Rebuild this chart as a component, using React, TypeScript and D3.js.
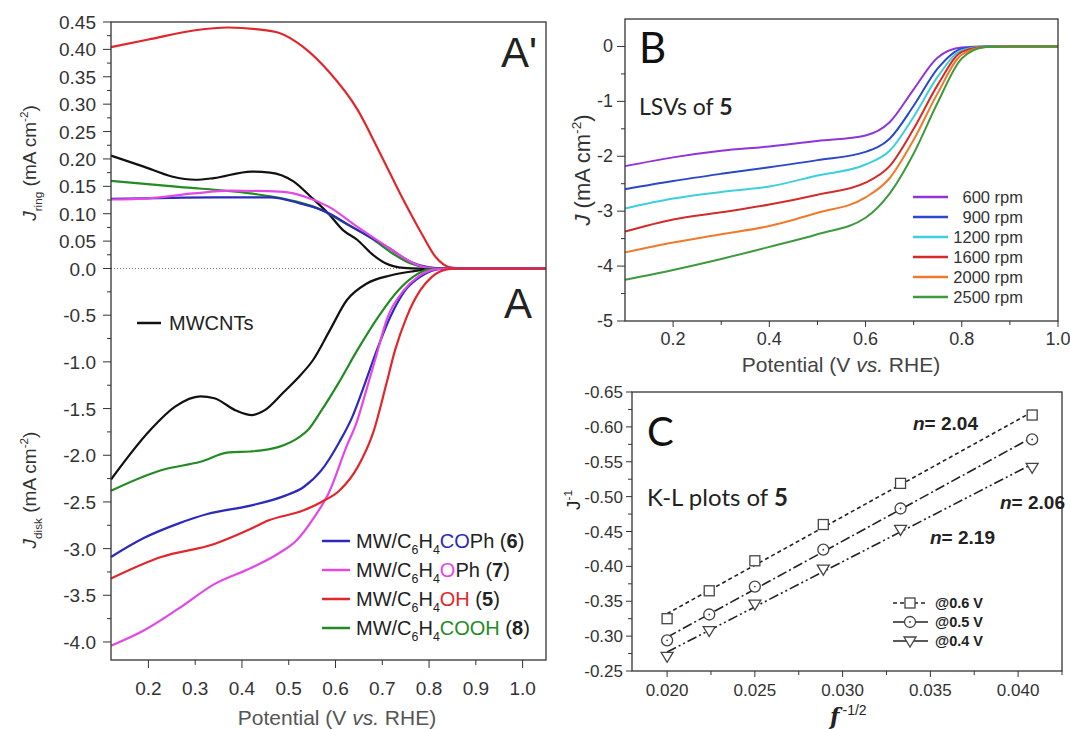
import React from 'react';
import * as d3 from 'd3';

const W = 1070;
const H = 729;
const FONT = "'Liberation Sans', Arial, sans-serif";
const CAL = "Lato, 'Open Sans', sans-serif";

// ---- panel A / A' (ring and disk currents, V vs. RHE) ----
const ringRed = [[0.12,0.404],[0.2,0.418],[0.3,0.435],[0.37,0.44],[0.43,0.437],[0.48,0.43],[0.53,0.405],[0.585,0.36],[0.647,0.29],[0.692,0.216],[0.738,0.137],[0.784,0.064],[0.815,0.02],[0.845,0.002],[0.87,0],[1.05,0]];
const ringBlack = [[0.12,0.206],[0.19,0.186],[0.25,0.168],[0.3,0.162],[0.34,0.165],[0.42,0.177],[0.46,0.175],[0.51,0.159],[0.547,0.131],[0.585,0.1],[0.616,0.07],[0.647,0.052],[0.677,0.027],[0.708,0.009],[0.746,0.001],[0.78,0],[1.05,0]];
const ringGreen = [[0.12,0.16],[0.265,0.149],[0.418,0.137],[0.517,0.122],[0.57,0.107],[0.616,0.085],[0.677,0.055],[0.723,0.027],[0.761,0.009],[0.8,0.001],[0.83,0],[1.05,0]];
const ringBlue = [[0.12,0.127],[0.34,0.13],[0.46,0.13],[0.524,0.119],[0.57,0.107],[0.647,0.07],[0.715,0.037],[0.761,0.012],[0.8,0.002],[0.83,0],[1.05,0]];
const ringMagenta = [[0.12,0.126],[0.2,0.128],[0.297,0.137],[0.374,0.142],[0.489,0.14],[0.535,0.131],[0.585,0.113],[0.647,0.076],[0.715,0.037],[0.761,0.012],[0.8,0.001],[0.83,0],[1.05,0]];

const diskBlack = [[0.12,-2.26],[0.204,-1.73],[0.257,-1.48],[0.311,-1.37],[0.341,-1.39],[0.387,-1.52],[0.421,-1.57],[0.448,-1.52],[0.49,-1.32],[0.52,-1.17],[0.552,-0.98],[0.588,-0.66],[0.624,-0.34],[0.667,-0.16],[0.717,-0.075],[0.766,-0.03],[0.82,0],[1.05,0]];
const diskGreen = [[0.12,-2.38],[0.227,-2.16],[0.311,-2.07],[0.372,-1.97],[0.418,-1.96],[0.479,-1.91],[0.524,-1.8],[0.541,-1.73],[0.57,-1.52],[0.606,-1.23],[0.646,-0.88],[0.691,-0.52],[0.734,-0.235],[0.766,-0.09],[0.8,-0.01],[0.83,0],[1.05,0]];
const diskBlue = [[0.12,-3.09],[0.189,-2.89],[0.265,-2.73],[0.326,-2.63],[0.418,-2.54],[0.494,-2.43],[0.532,-2.34],[0.57,-2.16],[0.608,-1.86],[0.635,-1.6],[0.663,-1.23],[0.688,-0.88],[0.717,-0.52],[0.749,-0.235],[0.781,-0.09],[0.817,-0.01],[0.84,0],[1.05,0]];
const diskMagenta = [[0.12,-4.04],[0.189,-3.88],[0.265,-3.64],[0.341,-3.38],[0.418,-3.21],[0.479,-3.05],[0.517,-2.91],[0.555,-2.66],[0.585,-2.41],[0.624,-1.9],[0.645,-1.65],[0.666,-1.3],[0.688,-0.92],[0.71,-0.54],[0.745,-0.24],[0.776,-0.09],[0.812,-0.01],[0.84,0],[1.05,0]];
const diskRed = [[0.12,-3.32],[0.227,-3.09],[0.341,-2.95],[0.418,-2.79],[0.456,-2.7],[0.532,-2.59],[0.57,-2.5],[0.608,-2.38],[0.647,-2.13],[0.681,-1.75],[0.709,-1.23],[0.727,-0.88],[0.752,-0.52],[0.781,-0.235],[0.806,-0.09],[0.838,-0.01],[0.86,0],[1.05,0]];

const samples = ['6', '7', '5', '8'];
const groups = ['CO', 'O', 'OH', 'COOH'];
const tails = ['Ph', 'Ph', '', ''];
const colA = { black: '#111111', blue: '#2a2abb', magenta: '#e447e6', red: '#e2262b', green: '#238b23' };

const ringTicks = [0, 0.05, 0.1, 0.15, 0.2, 0.25, 0.3, 0.35, 0.4, 0.45];
const diskTicks = [-0.5, -1, -1.5, -2, -2.5, -3, -3.5, -4];
const potTicksA = [0.2, 0.3, 0.4, 0.5, 0.6, 0.7, 0.8, 0.9, 1.0];

// ---- panel B (LSVs at different rotation rates) ----
const potB = [0.1, 0.2, 0.3, 0.4, 0.5, 0.6, 0.65, 0.7, 0.75, 0.8, 0.85, 0.9, 1.0];
const rpm = ['600', '900', '1200', '1600', '2000', '2500'];
const lsv600 = [-2.18, -2.02, -1.9, -1.82, -1.72, -1.62, -1.38, -0.78, -0.2, -0.02, 0, 0, 0];
const lsv900 = [-2.6, -2.45, -2.32, -2.2, -2.07, -1.92, -1.68, -1.08, -0.4, -0.04, 0, 0, 0];
const lsv1200 = [-2.95, -2.77, -2.65, -2.55, -2.35, -2.15, -1.9, -1.28, -0.55, -0.07, 0, 0, 0];
const lsv1600 = [-3.37, -3.15, -3.02, -2.88, -2.7, -2.48, -2.18, -1.5, -0.7, -0.1, -0.005, 0, 0];
const lsv2000 = [-3.75, -3.57, -3.42, -3.27, -3.03, -2.75, -2.4, -1.7, -0.85, -0.15, -0.01, 0, 0];
const lsv2500 = [-4.25, -4.07, -3.87, -3.65, -3.42, -3.12, -2.68, -1.95, -1.02, -0.22, -0.01, 0, 0];
const colB = ['#8e35d9', '#2b48c8', '#3dd0dc', '#d42a2a', '#f07a2a', '#3d9a3d'];

// ---- panel C (K-L plots) ----
const klX = [0.02, 0.0224, 0.025, 0.0289, 0.0333, 0.0408];
const kl06 = [-0.325, -0.365, -0.408, -0.46, -0.519, -0.617];
const kl05 = [-0.294, -0.331, -0.371, -0.424, -0.483, -0.582];
const kl04 = [-0.271, -0.308, -0.346, -0.396, -0.453, -0.542];
const klLabels = ['@0.6 V', '@0.5 V', '@0.4 V'];
const nValues = ['2.04', '2.06', '2.19'];
const klYTicks = [-0.65, -0.6, -0.55, -0.5, -0.45, -0.4, -0.35, -0.3, -0.25];
const klXTicks = [0.02, 0.025, 0.03, 0.035, 0.04];

const fmt = (spec: string) => (v: number) => d3.format(spec)(v).replace('\u2212', '-');

type Seg = { t: string; s?: 'sub' | 'sup'; c?: string; b?: boolean; i?: boolean; fs?: number };

function Rich({ x, y, segs, size, anchor = 'start', fill = '#222', rotate = 0, family = FONT, weight }: any) {
  let shift = 0;
  const parts = (segs as Seg[]).map((sg, k) => {
    const target = sg.s === 'sub' ? size * 0.32 : sg.s === 'sup' ? -size * 0.42 : 0;
    const dy = target - shift;
    shift = target;
    return (
      <tspan key={k} dy={dy} fill={sg.c} fontWeight={sg.b ? 'bold' : undefined}
        fontStyle={sg.i ? 'italic' : undefined} fontSize={sg.fs ?? (sg.s ? size * 0.62 : undefined)}>{sg.t}</tspan>
    );
  });
  return (
    <text x={x} y={y} fontSize={size} fontFamily={family} fill={fill} textAnchor={anchor} fontWeight={weight}
      transform={rotate ? `rotate(${rotate},${x},${y})` : undefined}>{parts}</text>
  );
}

export default function App() {
  // panel A scales
  const xA = d3.scaleLinear().domain([0.12, 1.05]).range([111, 546]);
  const yRing = d3.scaleLinear().domain([0, 0.45]).range([268.5, 22]);
  const yDisk = d3.scaleLinear().domain([-4.193, 0]).range([660, 268.5]);
  const ringLine = d3.line<number[]>().x(d => xA(d[0])).y(d => yRing(d[1])).curve(d3.curveMonotoneX);
  const diskLine = d3.line<number[]>().x(d => xA(d[0])).y(d => yDisk(d[1])).curve(d3.curveMonotoneX);

  const ringSeries = [
    { d: ringBlack, c: colA.black }, { d: ringGreen, c: colA.green }, { d: ringBlue, c: colA.blue },
    { d: ringMagenta, c: colA.magenta }, { d: ringRed, c: colA.red },
  ];
  const diskSeries = [
    { d: diskBlack, c: colA.black }, { d: diskGreen, c: colA.green }, { d: diskBlue, c: colA.blue },
    { d: diskMagenta, c: colA.magenta }, { d: diskRed, c: colA.red },
  ];
  const legendCols = [colA.blue, colA.magenta, colA.red, colA.green];

  // panel B scales
  const xB = d3.scaleLinear().domain([0.1, 1.0]).range([625, 1058]);
  const yB = d3.scaleLinear().domain([-5, 0.5]).range([321, 19]);
  const lsvs = [lsv600, lsv900, lsv1200, lsv1600, lsv2000, lsv2500];
  const lineB = d3.line<number>().x((_, i) => xB(potB[i])).y(d => yB(d)).curve(d3.curveMonotoneX);

  // panel C scales
  const xC = d3.scaleLinear().domain([0.018, 0.0425]).range([632, 1062]);
  const yC = d3.scaleLinear().domain([-0.25, -0.65]).range([671, 392]);
  const klSets = [kl06, kl05, kl04];
  const dashes = ['4,3', '10,3,2,3', '10,3,2,3,2,3'];
  const fits = klSets.map(ys => {
    const mx = d3.mean(klX) as number;
    const my = d3.mean(ys) as number;
    const sxy = d3.sum(klX, (x, i) => (x - mx) * (ys[i] - my));
    const sxx = d3.sum(klX, x => (x - mx) * (x - mx));
    const k = sxy / sxx;
    return (x: number) => my + k * (x - mx);
  });

  const marker = (kind: number, cx: number, cy: number, key: any) => {
    const st = { fill: 'white', stroke: '#444', strokeWidth: 1.3 };
    if (kind === 0) return <rect key={key} x={cx - 5} y={cy - 5} width={10} height={10} {...st} />;
    if (kind === 1) return <circle key={key} cx={cx} cy={cy} r={5.5} {...st} />;
    return <path key={key} d={`M${cx - 6},${cy - 4}L${cx + 6},${cy - 4}L${cx},${cy + 6}Z`} {...st} />;
  };

  const minorRing = d3.range(0.025, 0.45, 0.05);
  const minorDisk = d3.range(-0.25, -4.19, -0.5);
  const minorB = d3.range(-4.5, 0.5, 1);

  return (
    <svg width={W} height={H} style={{ position: 'absolute', left: 0, top: 0, background: 'white' }}
      fontFamily={FONT}>
      {/* ================= Panel A ================= */}
      <line x1={111} x2={546} y1={yRing(0)} y2={yRing(0)} stroke="#777" strokeWidth={1} strokeDasharray="1,2" />
      {ringSeries.map((s, i) => (
        <path key={'r' + i} d={ringLine(s.d) as string} fill="none" stroke={s.c} strokeWidth={2.2} />
      ))}
      {diskSeries.map((s, i) => (
        <path key={'d' + i} d={diskLine(s.d) as string} fill="none" stroke={s.c} strokeWidth={2.2} />
      ))}
      <rect x={111} y={22} width={435} height={638} fill="none" stroke="#333" strokeWidth={1.3} />
      {ringTicks.map(v => (
        <g key={'rt' + v}>
          <line x1={103} x2={111} y1={yRing(v)} y2={yRing(v)} stroke="#333" />
          <text x={96} y={yRing(v) + 7} fontSize={19} textAnchor="end" fill="#333">{v === 0 ? '0.0' : fmt('.2f')(v)}</text>
        </g>
      ))}
      {minorRing.map(v => (
        <line key={'rm' + v} x1={107} x2={111} y1={yRing(v)} y2={yRing(v)} stroke="#333" />
      ))}
      {diskTicks.map(v => (
        <g key={'dt' + v}>
          <line x1={103} x2={111} y1={yDisk(v)} y2={yDisk(v)} stroke="#333" />
          <text x={96} y={yDisk(v) + 7} fontSize={19} textAnchor="end" fill="#333">{fmt('.1f')(v)}</text>
        </g>
      ))}
      {minorDisk.map(v => (
        <line key={'dm' + v} x1={107} x2={111} y1={yDisk(v)} y2={yDisk(v)} stroke="#333" />
      ))}
      {potTicksA.map((v, i) => (
        <g key={'xa' + v}>
          <line x1={xA(v)} x2={xA(v)} y1={660} y2={i % 2 === 0 ? 668 : 665} stroke="#333" />
          <text x={xA(v)} y={695} fontSize={19} textAnchor="middle" fill="#333">{fmt('.1f')(v)}</text>
        </g>
      ))}
      <text x={337} y={725} fontSize={21} textAnchor="middle" fill="#555">Potential (V <tspan fontStyle="italic">vs.</tspan> RHE)</text>
      <Rich x={36} y={163} size={19} anchor="middle" rotate={-90} fill="#333"
        segs={[{ t: 'J', i: true }, { t: 'ring', s: 'sub' }, { t: ' (mA cm' }, { t: '-2', s: 'sup' }, { t: ')' }]} />
      <Rich x={36} y={490} size={19} anchor="middle" rotate={-90} fill="#333"
        segs={[{ t: 'J', i: true }, { t: 'disk', s: 'sub' }, { t: ' (mA cm' }, { t: '-2', s: 'sup' }, { t: ')' }]} />
      <text x={537} y={67} fontSize={42} textAnchor="end" fill="#222">A'</text>
      <text x={532} y={318} fontSize={42} textAnchor="end" fill="#222">A</text>
      <line x1={137} x2={161} y1={323} y2={323} stroke={colA.black} strokeWidth={2.5} />
      <text x={169} y={330} fontSize={20} fill="#222">MWCNTs</text>
      {samples.map((s, i) => {
        const y = 541 + i * 29;
        return (
          <g key={'la' + i}>
            <line x1={322} x2={350} y1={y} y2={y} stroke={legendCols[i]} strokeWidth={2.5} />
            <Rich x={356} y={y + 7} size={20} fill="#222" segs={[
              { t: 'MW/C' }, { t: '6', s: 'sub' }, { t: 'H' }, { t: '4', s: 'sub' },
              { t: groups[i], c: legendCols[i] }, { t: tails[i] + ' (' }, { t: s, b: true }, { t: ')' },
            ]} />
          </g>
        );
      })}

      {/* ================= Panel B ================= */}
      {lsvs.map((ys, i) => (
        <path key={'b' + i} d={lineB(ys) as string} fill="none" stroke={colB[i]} strokeWidth={2} />
      ))}
      <rect x={625} y={19} width={433} height={302} fill="none" stroke="#333" strokeWidth={1.3} />
      {[0, -1, -2, -3, -4, -5].map(v => (
        <g key={'by' + v}>
          <line x1={617} x2={625} y1={yB(v)} y2={yB(v)} stroke="#333" />
          <text x={613} y={yB(v) + 6} fontSize={18} textAnchor="end" fill="#333">{String(v)}</text>
        </g>
      ))}
      {minorB.map(v => (
        <line key={'bym' + v} x1={621} x2={625} y1={yB(v)} y2={yB(v)} stroke="#333" />
      ))}
      {[0.2, 0.4, 0.6, 0.8, 1.0].map(v => (
        <g key={'bx' + v}>
          <line x1={xB(v)} x2={xB(v)} y1={321} y2={327} stroke="#333" />
          <text x={xB(v)} y={345} fontSize={18} textAnchor="middle" fill="#333">{fmt('.1f')(v)}</text>
        </g>
      ))}
      {[0.3, 0.5, 0.7, 0.9].map(v => (
        <line key={'bxm' + v} x1={xB(v)} x2={xB(v)} y1={321} y2={325} stroke="#333" />
      ))}
      <text x={841} y={372} fontSize={21} textAnchor="middle" fill="#444">Potential (V <tspan fontStyle="italic">vs.</tspan> RHE)</text>
      <Rich x={590} y={170} size={22} anchor="middle" rotate={-90} fill="#333"
        segs={[{ t: 'J', i: true }, { t: ' (mA cm' }, { t: '-2', s: 'sup' }, { t: ')' }]} />
      <text x={639} y={63} fontSize={42} fontFamily={CAL} fill="#111">B</text>
      <text x={639} y={115} fontSize={23} fontFamily={CAL} fill="#222">LSVs of <tspan fontWeight="bold">5</tspan></text>
      {rpm.map((r, i) => {
        const y = 197 + i * 20;
        return (
          <g key={'lb' + i}>
            <line x1={913} x2={948} y1={y} y2={y} stroke={colB[i]} strokeWidth={2.5} />
            <text x={1023} y={y + 6} fontSize={16.5} textAnchor="end" fill="#333">{r} rpm</text>
          </g>
        );
      })}

      {/* ================= Panel C ================= */}
      {fits.map((f, i) => (
        <line key={'f' + i} x1={xC(klX[0])} y1={yC(f(klX[0]))} x2={xC(klX[5])} y2={yC(f(klX[5]))}
          stroke="#222" strokeWidth={1.6} strokeDasharray={dashes[i]} />
      ))}
      {klSets.map((ys, k) => ys.map((v, i) => marker(k, xC(klX[i]), yC(v), `m${k}-${i}`)))}
      {kl05.map((v, i) => <circle key={'dot' + i} cx={xC(klX[i])} cy={yC(v)} r={0.9} fill="#444" />)}
      <rect x={632} y={392} width={430} height={279} fill="none" stroke="#333" strokeWidth={1.3} />
      {klYTicks.map(v => (
        <g key={'cy' + v}>
          <line x1={626} x2={632} y1={yC(v)} y2={yC(v)} stroke="#333" />
          <text x={623} y={yC(v) + 6} fontSize={17} textAnchor="end" fill="#333">{fmt('.2f')(v)}</text>
        </g>
      ))}
      {d3.range(-0.625, -0.25, 0.05).map(v => (
        <line key={'cym' + v} x1={628} x2={632} y1={yC(v)} y2={yC(v)} stroke="#333" />
      ))}
      {klXTicks.map(v => (
        <g key={'cx' + v}>
          <line x1={xC(v)} x2={xC(v)} y1={671} y2={677} stroke="#333" />
          <text x={xC(v)} y={696} fontSize={17} textAnchor="middle" fill="#333">{fmt('.3f')(v)}</text>
        </g>
      ))}
      {[0.0225, 0.0275, 0.0325, 0.0375, 0.0425].map(v => (
        <line key={'cxm' + v} x1={xC(v)} x2={xC(v)} y1={671} y2={675} stroke="#333" />
      ))}
      <text x={830} y={724} fontFamily="'DejaVu Serif', serif" fontSize={22} fontStyle="italic" fontWeight="bold" fill="#222">
        f<tspan dx={3} dy={-9} fontFamily={FONT} fontSize={14} fontStyle="normal" fontWeight="normal">-1/2</tspan>
      </text>
      <Rich x={580} y={500} size={19} anchor="middle" rotate={-90} fill="#222"
        segs={[{ t: 'J' }, { t: '-1', s: 'sup' }]} />
      <text x={647} y={446} fontSize={40} fontFamily={CAL} fill="#111">C</text>
      <text x={647} y={506} fontSize={24} fontFamily={CAL} fill="#222">K-L plots of <tspan fontWeight="bold">5</tspan></text>
      {[[913, 430], [1000, 509], [930, 544]].map((p, i) => (
        <text key={'n' + i} x={p[0]} y={p[1]} fontSize={19} fontWeight="bold" fill="#222">
          <tspan fontStyle="italic">n</tspan>= {nValues[i]}
        </text>
      ))}
      {klLabels.map((l, i) => {
        const y = 603 + i * 19;
        return (
          <g key={'lc' + i}>
            <line x1={893} x2={928} y1={y} y2={y} stroke="#222" strokeWidth={1.6} strokeDasharray={i === 0 ? '4,3' : undefined} />
            {marker(i, 910, y, 'lm' + i)}
            {i === 1 && <circle cx={910} cy={y} r={0.9} fill="#444" />}
            <text x={935} y={y + 5} fontSize={14.5} fontWeight="bold" fill="#222">{l}</text>
          </g>
        );
      })}
    </svg>
  );
}
